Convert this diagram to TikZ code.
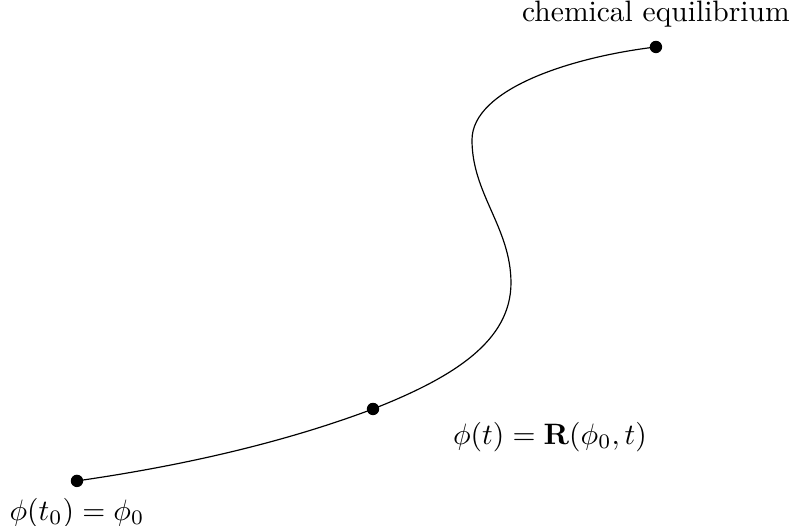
\documentclass[tikz,border=0pt]{standalone}
\usepackage{amsmath}
\usepackage{amssymb}
\usepackage{tikz}
\usetikzlibrary{positioning, calc}

\tikzset{
  ponto/.style={circle, fill=black, inner sep=0pt, minimum size=4.2pt},
}

\begin{document}
\begin{tikzpicture}
  \useasboundingbox (0,0) rectangle (9.437,6.259);
  % Pontos da trajetoria
  \node[ponto] (inicio) at (0.916,0.536) {};
  \node[ponto] (meio) at (4.439,1.392) {};
  \node[ponto] (equil) at (7.806,5.700) {};
  \coordinate (dir) at (6.081,2.892);
  \coordinate (esq) at (5.617,4.593);
  % Trajetoria
  \draw[thin] (inicio.center) .. controls (2.2,0.72) and (3.4,1.0) .. (meio.center)
    .. controls (5.4,1.77) and (6.08,2.2) .. (dir)
    .. controls (6.08,3.55) and (5.617,3.95) .. (esq)
    .. controls (5.617,5.2) and (6.8,5.58) .. (equil.center);
  % Labels
  \node[above=1pt of equil] (equil-lab) {chemical equilibrium};
  \node (meio-lab) at (6.545,1.059) {$\phi(t) = \mathbf{R}(\phi_0, t)$};
  \node[below=0pt of inicio] (inicio-lab) {$\phi(t_0) = \phi_0$};
\end{tikzpicture}
\end{document}
